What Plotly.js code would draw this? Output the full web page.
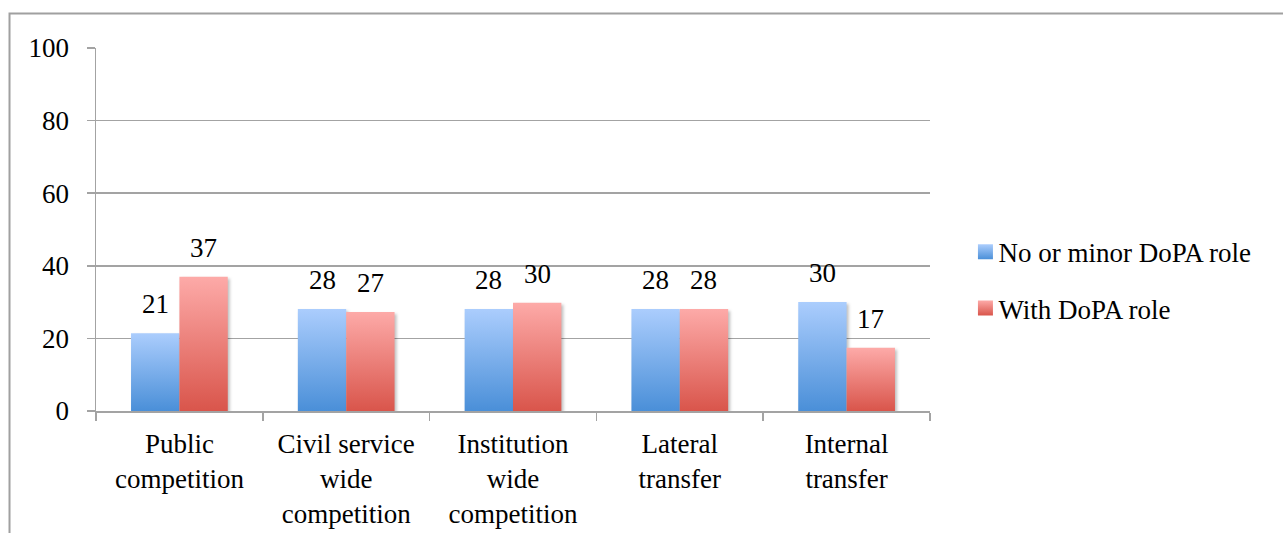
<!DOCTYPE html>
<html>
<head>
<meta charset="utf-8">
<script src="https://cdn.plot.ly/plotly-3.0.1.min.js"></script>
<style>
  html, body { margin: 0; padding: 0; background: #fff; }
  #chart { width: 1283px; height: 533px; }
</style>
</head>
<body>
<div id="chart"></div>
<script>
// ---- data ----
const categories = [
  "Public<br>competition",
  "Civil service<br>wide<br>competition",
  "Institution<br>wide<br>competition",
  "Lateral<br>transfer",
  "Internal<br>transfer"
];
const seriesNames = ["No or minor DoPA role", "With DoPA role"];
const noRoleValues = [21.4, 28.1, 28.1, 28.1, 30.0];
const withRoleValues = [37.0, 27.3, 29.8, 28.1, 17.4];
const yTickValues = [0, 20, 40, 60, 80, 100];

// ---- style ----
const FONT = "Liberation Serif, Times New Roman, serif";
const FS = 27;
const GRID = "#a3a3a3";
const BARGAP = 0.42;

const traces = [
  {
    type: "bar", name: seriesNames[0], x: categories, y: noRoleValues,
    marker: { color: "#7fb0ec", line: { width: 0 } },
    legendgroup: "a", hoverinfo: "skip"
  },
  {
    type: "bar", name: seriesNames[1], x: categories, y: withRoleValues,
    marker: { color: "#ec7f79", line: { width: 0 } },
    legendgroup: "b", hoverinfo: "skip"
  }
];

// value labels above bars
const annotations = [];
const off = (1 - BARGAP) / 4;
[noRoleValues, withRoleValues].forEach((vals, s) => {
  vals.forEach((v, i) => {
    annotations.push({
      x: i + (s === 0 ? -off : off), y: v, xref: "x", yref: "y",
      text: String(Math.round(v)), showarrow: false,
      yanchor: "bottom", yshift: 12,
      font: { family: FONT, size: FS, color: "#000" }
    });
  });
});

const layout = {
  width: 1283, height: 533,
  margin: { l: 96, r: 353, t: 48, b: 122 },
  paper_bgcolor: "#fff", plot_bgcolor: "#fff",
  font: { family: FONT, size: FS, color: "#000" },
  barmode: "group", bargap: BARGAP, bargroupgap: 0,
  showlegend: true,
  legend: {
    x: 1.0425, y: 0.36, xanchor: "left", yanchor: "middle",
    traceorder: "grouped", tracegroupgap: 18,
    font: { family: FONT, size: FS, color: "#000" },
    bgcolor: "rgba(0,0,0,0)"
  },
  xaxis: {
    type: "category", tickson: "boundaries",
    ticks: "outside", ticklen: 8, tickcolor: GRID, tickwidth: 1.5,
    showline: true, linecolor: GRID, linewidth: 1.5,
    showgrid: false, zeroline: false,
    ticklabelstandoff: 8,
    tickfont: { family: FONT, size: FS, color: "#000" },
    fixedrange: true
  },
  yaxis: {
    range: [0, 100], tickvals: yTickValues,
    ticks: "outside", ticklen: 8, tickcolor: GRID, tickwidth: 1.5,
    showline: true, linecolor: GRID, linewidth: 1.5,
    showgrid: true, gridcolor: GRID, gridwidth: 1.5,
    zeroline: false, ticklabelstandoff: 12,
    tickfont: { family: FONT, size: FS, color: "#000" },
    fixedrange: true
  },
  annotations: annotations,
  shapes: [
    {
      type: "rect", xref: "paper", yref: "paper",
      x0: -0.1037, x1: 2, y0: -1, y1: 1.095,
      line: { color: "#a0a0a0", width: 2 }, fillcolor: "rgba(0,0,0,0)"
    }
  ]
};

Plotly.newPlot("chart", traces, layout, { staticPlot: true, displayModeBar: false }).then(gd => {
  const svg = gd.querySelector("svg.main-svg");
  const ns = "http://www.w3.org/2000/svg";
  let defs = svg.querySelector("defs");
  if (!defs) { defs = document.createElementNS(ns, "defs"); svg.insertBefore(defs, svg.firstChild); }
  function grad(id, top, bottom) {
    const g = document.createElementNS(ns, "linearGradient");
    g.setAttribute("id", id);
    g.setAttribute("x1", "0"); g.setAttribute("y1", "0");
    g.setAttribute("x2", "0"); g.setAttribute("y2", "1");
    [[0, top], [1, bottom]].forEach(([o, c]) => {
      const s = document.createElementNS(ns, "stop");
      s.setAttribute("offset", o); s.setAttribute("stop-color", c);
      g.appendChild(s);
    });
    defs.appendChild(g);
  }
  grad("gBlue", "#abcdfd", "#4a8fd8");
  grad("gRed", "#fdaaa8", "#d9554b");
  const ids = ["gBlue", "gRed"];
  gd.querySelectorAll(".barlayer .trace").forEach((t, k) => {
    t.querySelectorAll(".point path").forEach(p => {
      p.style.fill = "url(#" + ids[k] + ")";
      p.style.filter = "drop-shadow(2px 2px 1.5px rgba(0,0,0,0.25))";
    });
  });
  gd.querySelectorAll(".legend .traces").forEach((t, k) => {
    t.querySelectorAll(".legendpoints path").forEach(p => {
      p.setAttribute("d", "M7.5,7.5H-7.5V-7.5H7.5Z");
      p.style.fill = "url(#" + ids[k] + ")";
    });
    const txt = t.querySelector("text.legendtext");
    if (txt) txt.setAttribute("x", "33");
  });
});
</script>
</body>
</html>
